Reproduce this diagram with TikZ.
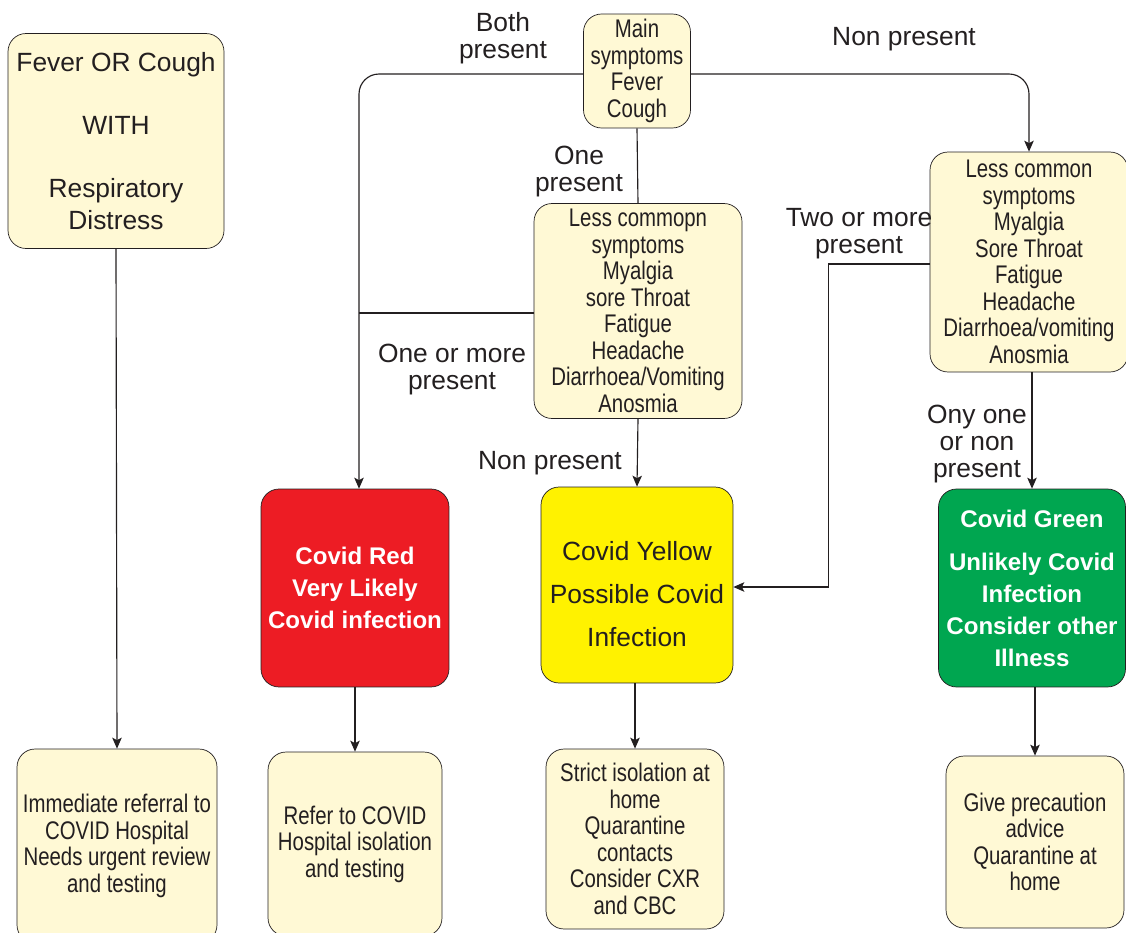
\documentclass[tikz,border=0pt]{standalone}
\usepackage{fontspec}
\setmainfont{Liberation Sans}
\newfontfamily\narrowfont[FakeStretch=0.8]{Liberation Sans}
\usepackage{tikz}
\usetikzlibrary{arrows.meta}

\definecolor{inkgrey}{HTML}{231F20}
\definecolor{boxfill}{HTML}{FFF9D5}
\definecolor{covidred}{HTML}{ED1C24}
\definecolor{covidyellow}{HTML}{FFF200}
\definecolor{covidgreen}{HTML}{00A650}

\tikzset{
	entrybox/.style={draw=inkgrey, fill=boxfill, rounded corners=0.36cm, align=center, inner sep=1pt, text=inkgrey},
	entry/.style={entrybox, font=\narrowfont\fontsize{14.5}{15.1}\selectfont,
		execute at begin node={\rule{0pt}{15pt}}},
	grade/.style={draw=inkgrey, rounded corners=0.36cm, align=center, inner sep=1pt,
		font=\bfseries\fontsize{13.7}{18.2}\selectfont, text=white},
	branch/.style={align=center, text=inkgrey, font=\fontsize{15}{15.4}\selectfont},
	link/.style={draw=inkgrey, line width=0.65pt},
	arrow/.style={link, -{Stealth[length=0.22cm,width=0.19cm,inset=0.05cm]}}
}

\begin{document}
\begin{tikzpicture}[x=0.02cm,y=-0.02cm]
			\useasboundingbox (0,0) rectangle (1126,933);
			\clip (0,0) rectangle (1126,933);
			% boxes
			\node[entrybox, minimum width=4.32cm, minimum height=4.30cm, font=\fontsize{15}{17.9}\selectfont] (nodeFever) at (116,141)
				{Fever OR Cough\\ ~\\ WITH\\ ~\\ Respiratory\\ Distress};
			\node[entry, minimum width=2.14cm, minimum height=2.28cm] (nodeMain) at (637,71)
				{Main\\ symptoms\\ Fever\\ Cough};
			\node[entry, minimum width=4.16cm, minimum height=4.30cm] (nodeLessL) at (638,311)
				{Less commopn\\ symptoms\\ Myalgia\\ sore Throat\\ Fatigue\\ Headache\\ Diarrhoea/Vomiting\\ Anosmia};
			\node[entry, minimum width=3.96cm, minimum height=4.40cm] (nodeLessR) at (1029,262)
				{Less common\\ symptoms\\ Myalgia\\ Sore Throat\\ Fatigue\\ Headache\\ Diarrhoea/vomiting\\ Anosmia};
			\node[grade, fill=covidred, minimum width=3.76cm, minimum height=3.96cm] (nodeRed) at (355,588)
				{Covid Red\\ Very Likely\\ Covid infection};
			\node[grade, fill=covidyellow, minimum width=3.84cm, minimum height=3.92cm, text=inkgrey,
				font=\fontsize{15}{24.5}\selectfont] (nodeYellow) at (637,585)
				{\rule{0pt}{0.75cm}Covid Yellow\\ Possible Covid\\ Infection};
			\node[grade, fill=covidgreen, minimum width=3.74cm, minimum height=3.96cm] (nodeGreen) at (1032,588)
				{Covid Green\\[0.22cm] Unlikely Covid\\ Infection\\ Consider other\\ Illness};
			\node[entry, minimum width=4.00cm, minimum height=3.88cm] (nodeImmediate) at (117,846)
				{Immediate referral to\\ COVID Hospital\\ Needs urgent review\\ and testing};
			\node[entry, minimum width=3.48cm, minimum height=3.68cm] (nodeRefer) at (355,844)
				{Refer to COVID\\ Hospital isolation\\ and testing};
			\node[entry, minimum width=3.56cm, minimum height=3.60cm] (nodeStrict) at (635,839)
				{Strict isolation at\\ home\\ Quarantine\\ contacts\\ Consider CXR\\ and CBC};
			\node[entry, minimum width=3.56cm, minimum height=3.44cm] (nodeGive) at (1035,842)
				{Give precaution\\ advice\\ Quarantine at\\ home};
			% branch labels
			\node[branch] (labelBoth) at (503,38) {Both\\ present};
			\node[branch] (labelNonTop) at (904,39) {Non present};
			\node[branch] (labelOne) at (579,172) {One\\ present};
			\node[branch] (labelOneMore) at (452,370) {One or more\\ present};
			\node[branch] (labelNonMid) at (550,463) {Non present};
			\node[branch] (labelTwoMore) at (859,234) {Two or more\\ present};
			\node[branch] (labelOnly) at (977,444) {Ony one\\ or non\\ present};
			% connectors
			\draw[arrow, rounded corners=0.4cm] ([yshift=-0.06cm]nodeMain.west) -| ([xshift=0.08cm]nodeRed.north);
			\draw[arrow, rounded corners=0.4cm] ([yshift=-0.06cm]nodeMain.east) -| (nodeLessR.north);
			\draw[link] (nodeMain.south) -- (nodeLessL.north);
			\draw[link] ([yshift=-0.04cm]nodeLessL.west) -- ([yshift=-0.04cm,xshift=0.08cm]nodeLessL.west -| nodeRed.north);
			\draw[arrow] (nodeLessL.south) -- (nodeYellow.north);
			\draw[arrow] ([yshift=-0.04cm]nodeLessR.west) -- ++(-101,0) |- ([yshift=-0.04cm]nodeYellow.east);
			\draw[arrow] (nodeLessR.south -| nodeGreen.north) -- (nodeGreen.north);
			\draw[arrow] (nodeFever.south) -- (nodeImmediate.north);
			\draw[arrow] (nodeRed.south) -- (nodeRefer.north);
			\draw[arrow] (nodeYellow.south -| nodeStrict.north) -- (nodeStrict.north);
			\draw[arrow] (nodeGreen.south -| nodeGive.north) -- (nodeGive.north);
		\end{tikzpicture}
\end{document}
